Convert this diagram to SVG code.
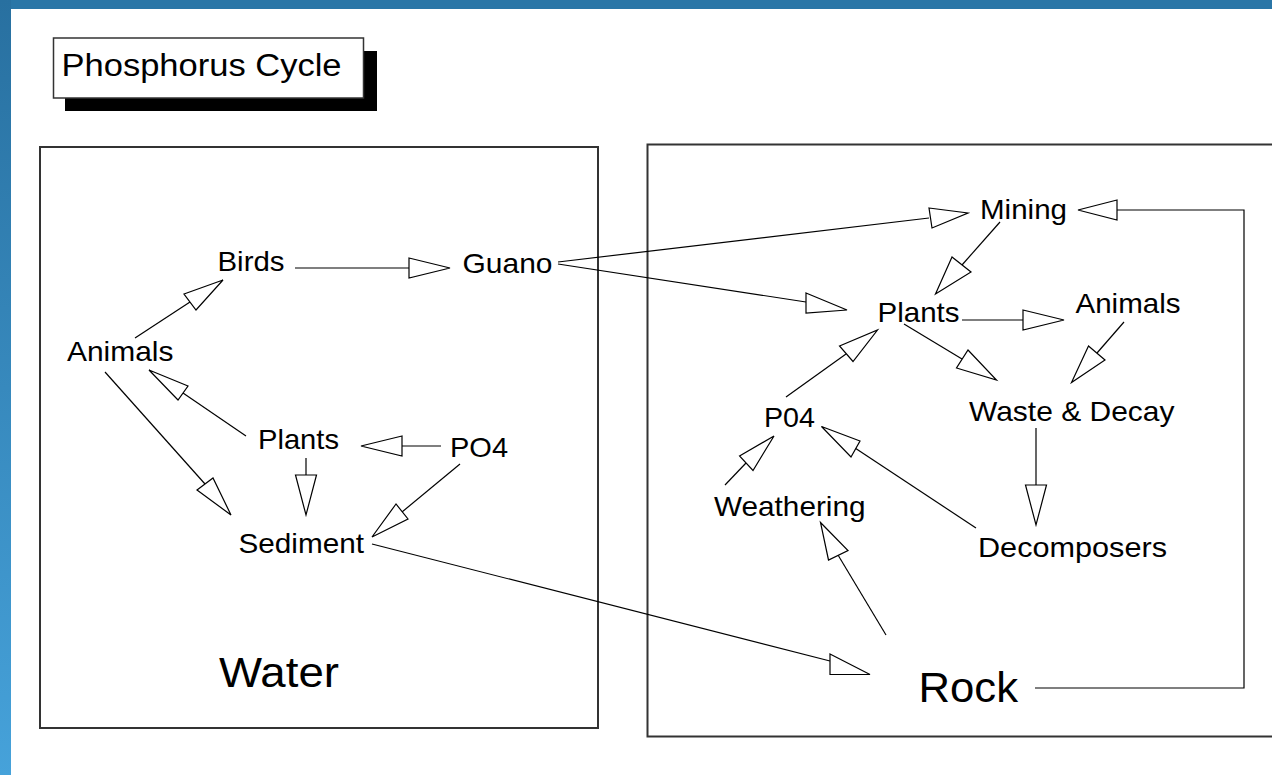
<svg xmlns="http://www.w3.org/2000/svg" width="1272" height="775" viewBox="0 0 1272 775">
<defs>
<linearGradient id="side" x1="0" y1="0" x2="0" y2="1">
<stop offset="0" stop-color="#2870a0"/>
<stop offset="1" stop-color="#46a2da"/>
</linearGradient>
<style>
.lbl{font-family:"Liberation Sans",Arial,sans-serif;font-size:28px;fill:#000}
.big{font-family:"Liberation Sans",Arial,sans-serif;font-size:42px;fill:#000}
.frame{fill:none;stroke:#333;stroke-width:2}
.ln{fill:none;stroke:#000;stroke-width:1.2}
.hd{fill:#fff;stroke:#000;stroke-width:1.2;stroke-linejoin:miter}
</style>
</defs>
<rect x="0" y="0" width="1272" height="775" fill="#fff"/>
<rect x="0" y="0" width="1272" height="9" fill="#2a76a7"/>
<rect x="0" y="0" width="11" height="775" fill="url(#side)"/>

<g id="title">
<rect x="65" y="51" width="312" height="60" fill="#000"/>
<rect x="53.5" y="38" width="310" height="60" fill="#fff" stroke="#333" stroke-width="1.5"/>
<text x="61.5" y="76" style="font-family:'Liberation Sans',Arial,sans-serif;font-size:31px" textLength="280" lengthAdjust="spacingAndGlyphs">Phosphorus Cycle</text>
</g>

<g id="water-box"><rect class="frame" x="40" y="147" width="558" height="581"/>
<text class="big" x="219" y="687" textLength="120" lengthAdjust="spacingAndGlyphs">Water</text></g>
<g id="rock-box"><rect class="frame" x="647.5" y="144.5" width="640" height="592"/>
<text class="big" x="918.5" y="702" textLength="99.5" lengthAdjust="spacingAndGlyphs">Rock</text></g>

<g id="w-birds"><text class="lbl" x="217.5" y="271" textLength="67" lengthAdjust="spacingAndGlyphs">Birds</text></g>
<g id="w-guano"><text class="lbl" x="462.5" y="273" textLength="90" lengthAdjust="spacingAndGlyphs">Guano</text></g>
<g id="w-animals"><text class="lbl" x="67" y="361" textLength="106.5" lengthAdjust="spacingAndGlyphs">Animals</text></g>
<g id="w-plants"><text class="lbl" x="258" y="449" textLength="81" lengthAdjust="spacingAndGlyphs">Plants</text></g>
<g id="w-po4"><text class="lbl" x="450" y="457" textLength="58" lengthAdjust="spacingAndGlyphs">PO4</text></g>
<g id="w-sediment"><text class="lbl" x="238.5" y="553" textLength="125.5" lengthAdjust="spacingAndGlyphs">Sediment</text></g>

<g id="r-mining"><text class="lbl" x="980" y="219" textLength="87" lengthAdjust="spacingAndGlyphs">Mining</text></g>
<g id="r-plants"><text class="lbl" x="877.5" y="322" textLength="82" lengthAdjust="spacingAndGlyphs">Plants</text></g>
<g id="r-animals"><text class="lbl" x="1075.5" y="313" textLength="105" lengthAdjust="spacingAndGlyphs">Animals</text></g>
<g id="r-po4"><text class="lbl" x="764" y="427" textLength="51" lengthAdjust="spacingAndGlyphs">P04</text></g>
<g id="r-waste"><text class="lbl" x="969" y="421" textLength="205.5" lengthAdjust="spacingAndGlyphs">Waste &amp; Decay</text></g>
<g id="r-weathering"><text class="lbl" x="714" y="516" textLength="151.5" lengthAdjust="spacingAndGlyphs">Weathering</text></g>
<g id="r-decomposers"><text class="lbl" x="978" y="557" textLength="189" lengthAdjust="spacingAndGlyphs">Decomposers</text></g>

<g id="connectors">
<!-- Birds -> Guano -->
<path class="ln" d="M295,268 L409,268"/><polygon class="hd" points="409,258 450,268 409,278"/>
<!-- Animals -> Birds -->
<path class="ln" d="M135,338 L190,302"/><polygon class="hd" points="184,294 223,280 196,310"/>
<!-- Animals -> Sediment -->
<path class="ln" d="M105,372 L205,484"/><polygon class="hd" points="197,490 231,515 213,478"/>
<!-- Plants -> Animals -->
<path class="ln" d="M246,436 L183,393"/><polygon class="hd" points="188,386 149,370 178,400"/>
<!-- PO4 -> Plants -->
<path class="ln" d="M441,446 L402,446"/><polygon class="hd" points="402,436 361,446 402,456"/>
<!-- Plants -> Sediment -->
<path class="ln" d="M306,458 L306,475"/><polygon class="hd" points="295.5,475 306,515 316.5,475"/>
<!-- PO4 -> Sediment -->
<path class="ln" d="M460,464 L402,512"/><polygon class="hd" points="396,504 372,537 408,519"/>
<!-- Sediment -> Rock -->
<path class="ln" d="M372,544 L830,661"/><polygon class="hd" points="830,654 870,674.5 830,674.5"/>
<!-- Guano -> Mining -->
<path class="ln" d="M558,262 L929,218"/><polygon class="hd" points="929,208 968,213 932,228"/>
<!-- Guano -> Plants -->
<path class="ln" d="M558,264 L806,302"/><polygon class="hd" points="806,293 847,310 806,313"/>
<!-- Mining -> Plants -->
<path class="ln" d="M1000,222 L962,265"/><polygon class="hd" points="952,257 935.5,294 971,272"/>
<!-- Plants -> Animals -->
<path class="ln" d="M962,320 L1023,320"/><polygon class="hd" points="1023,310 1064,320 1023,330"/>
<!-- Animals -> Waste -->
<path class="ln" d="M1124,322 L1097,353"/><polygon class="hd" points="1088.5,346 1071.5,382.5 1105,360"/>
<!-- Plants -> Waste -->
<path class="ln" d="M904,324 L962,359"/><polygon class="hd" points="968,350 996.5,380 956.5,368"/>
<!-- P04 -> Plants -->
<path class="ln" d="M786,397 L846,354"/><polygon class="hd" points="839.5,346 877.5,330 853,361.5"/>
<!-- Weathering -> P04 -->
<path class="ln" d="M725,485 L746,463"/><polygon class="hd" points="739.5,456 774,436 753,470.5"/>
<!-- Decomposers -> P04 -->
<path class="ln" d="M976,528 L855,448"/><polygon class="hd" points="860,441 821.5,426.5 851,457"/>
<!-- Waste -> Decomposers -->
<path class="ln" d="M1036,428 L1036,485"/><polygon class="hd" points="1025.5,485 1036,525 1046.5,485"/>
<!-- Rock -> Weathering -->
<path class="ln" d="M886,635 L838,555"/><polygon class="hd" points="828.5,560 820.5,522.5 848,550.5"/>
<!-- Rock -> Mining -->
<path class="ln" d="M1035,688 L1244,688 L1244,210 L1117,210"/><polygon class="hd" points="1117,200 1078,210 1117,220"/>
</g>
</svg>
